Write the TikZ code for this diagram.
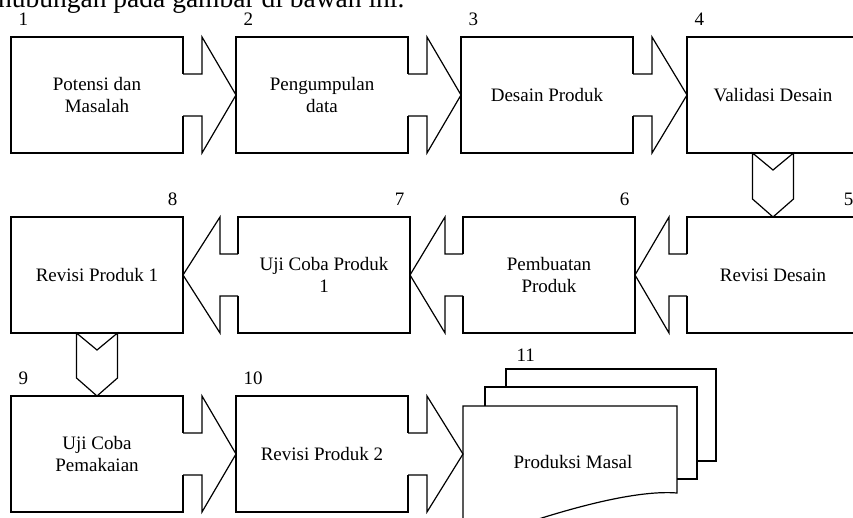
\documentclass[tikz,border=0pt]{standalone}
\usepackage{fontspec}
\setmainfont{Liberation Serif}
\usepackage{tikz}
\usetikzlibrary{calc}
\tikzset{
  stage/.style={draw, rectangle, outer sep=0pt, minimum width=172pt, minimum height=116pt,
    align=center, font=\fontsize{19}{22}\selectfont},
  stagenum/.style={inner sep=0pt, font=\fontsize{19}{22}\selectfont},
}
\newcommand{\drawstages}[1] {
    \foreach \name/\x/\y/\txt in #1 {
      \node[stage] (\name) at (\x,\y) {\txt};
    }
}
\newcommand{\drawrightarrows}[1] {
    \foreach \a/\b in #1 {
      \fill[white] ($(\a.east)+(-1.5,-21)$) rectangle ($(\a.east)+(1.5,21)$); % open the box side
      \draw ($(\a.east)+(0,-21)$) -- ++(19,0) -- ($(\a.north east)+(19,0)$) -- (\b.west)
        -- ($(\a.south east)+(19,0)$) -- ($(\a.east)+(19,21)$) -- ++(-19,0);
    }
}
\newcommand{\drawleftarrows}[1] {
    \foreach \a/\b in #1 {
      \fill[white] ($(\a.west)+(-1.5,-21)$) rectangle ($(\a.west)+(1.5,21)$);
      \draw ($(\a.west)+(0,-21)$) -- ++(-18,0) -- ($(\a.north west)+(-18,0)$) -- (\b.east)
        -- ($(\a.south west)+(-18,0)$) -- ($(\a.west)+(-18,21)$) -- ++(18,0);
    }
}
\newcommand{\drawdownarrows}[1] {
    \foreach \a/\b in #1 {
      \draw ($(\a.south)+(-20.5,0)$) -- ($(\a.south)+(0,17)$) -- ($(\a.south)+(20.5,0)$)
        -- ($(\b.north)+(20.5,-18)$) -- (\b.north) -- ($(\b.north)+(-20.5,-18)$) -- cycle;
    }
}

\begin{document}
\begin{tikzpicture}[x=1pt, y=-1pt, line width=1.2pt]
    \useasboundingbox (0,0) rectangle (853,518);
    \clip (0,0) rectangle (853,518);
    \node[anchor=base east, inner sep=0pt, font=\fontsize{27.5}{30}\selectfont] (intro) at (405,7.5)
      {hubungan pada gambar di bawah ini.};
    \drawstages{{b1/97/95/Potensi dan\\Masalah, b2/322/95/Pengumpulan\\data,
      b3/547/95/Desain Produk, b4/773/95/Validasi Desain,
      b8/97/275/Revisi Produk 1, b7/324/275/Uji Coba Produk\\1,
      b6/549/275/Pembuatan\\Produk, b5/773/275/Revisi Desain,
      b9/97/454/Uji Coba\\Pemakaian, b10/322/454/Revisi Produk 2}}
    % produksi masal: stack of documents
    \node[minimum width=214pt, minimum height=96pt, outer sep=0pt] (b11) at (570,454) {};
    \begin{scope}[shift={(b11.north west)}]
      \draw (43,-19) -- (43,-37) -- (253,-37) -- (253,55) -- (234,55);
      \draw (22,0) -- (22,-19) -- (234,-19) -- (234,73) -- (214,73);
      \draw (0,122) -- (0,0) -- (214,0) -- (214,87) .. controls (177,84) and (117,99) .. (57,119)
        .. controls (37,125) and (17,125) .. (0,122);
      \node[stagenum, anchor=west] (n11) at (53,-51) {11};
      \node[stage, draw=none, minimum width=0pt, minimum height=0pt] (t11) at (110,56) {Produksi Masal};
    \end{scope}
    \drawrightarrows{{b1/b2, b2/b3, b3/b4, b9/b10, b10/b11}}
    \drawleftarrows{{b5/b6, b6/b7, b7/b8}}
    \drawdownarrows{{b4/b5, b8/b9}}
    \foreach \name/\num in {b1/1, b2/2, b3/3, b4/4, b9/9, b10/10} {
      \node[stagenum, anchor=west] (n\num) at ($(\name.north west)+(7,-18)$) {\num};
    }
    \foreach \name/\num in {b5/5, b6/6, b7/7, b8/8} {
      \node[stagenum, anchor=east] (n\num) at ($(\name.north east)+(-5,-18)$) {\num};
    }
\end{tikzpicture}
\end{document}
